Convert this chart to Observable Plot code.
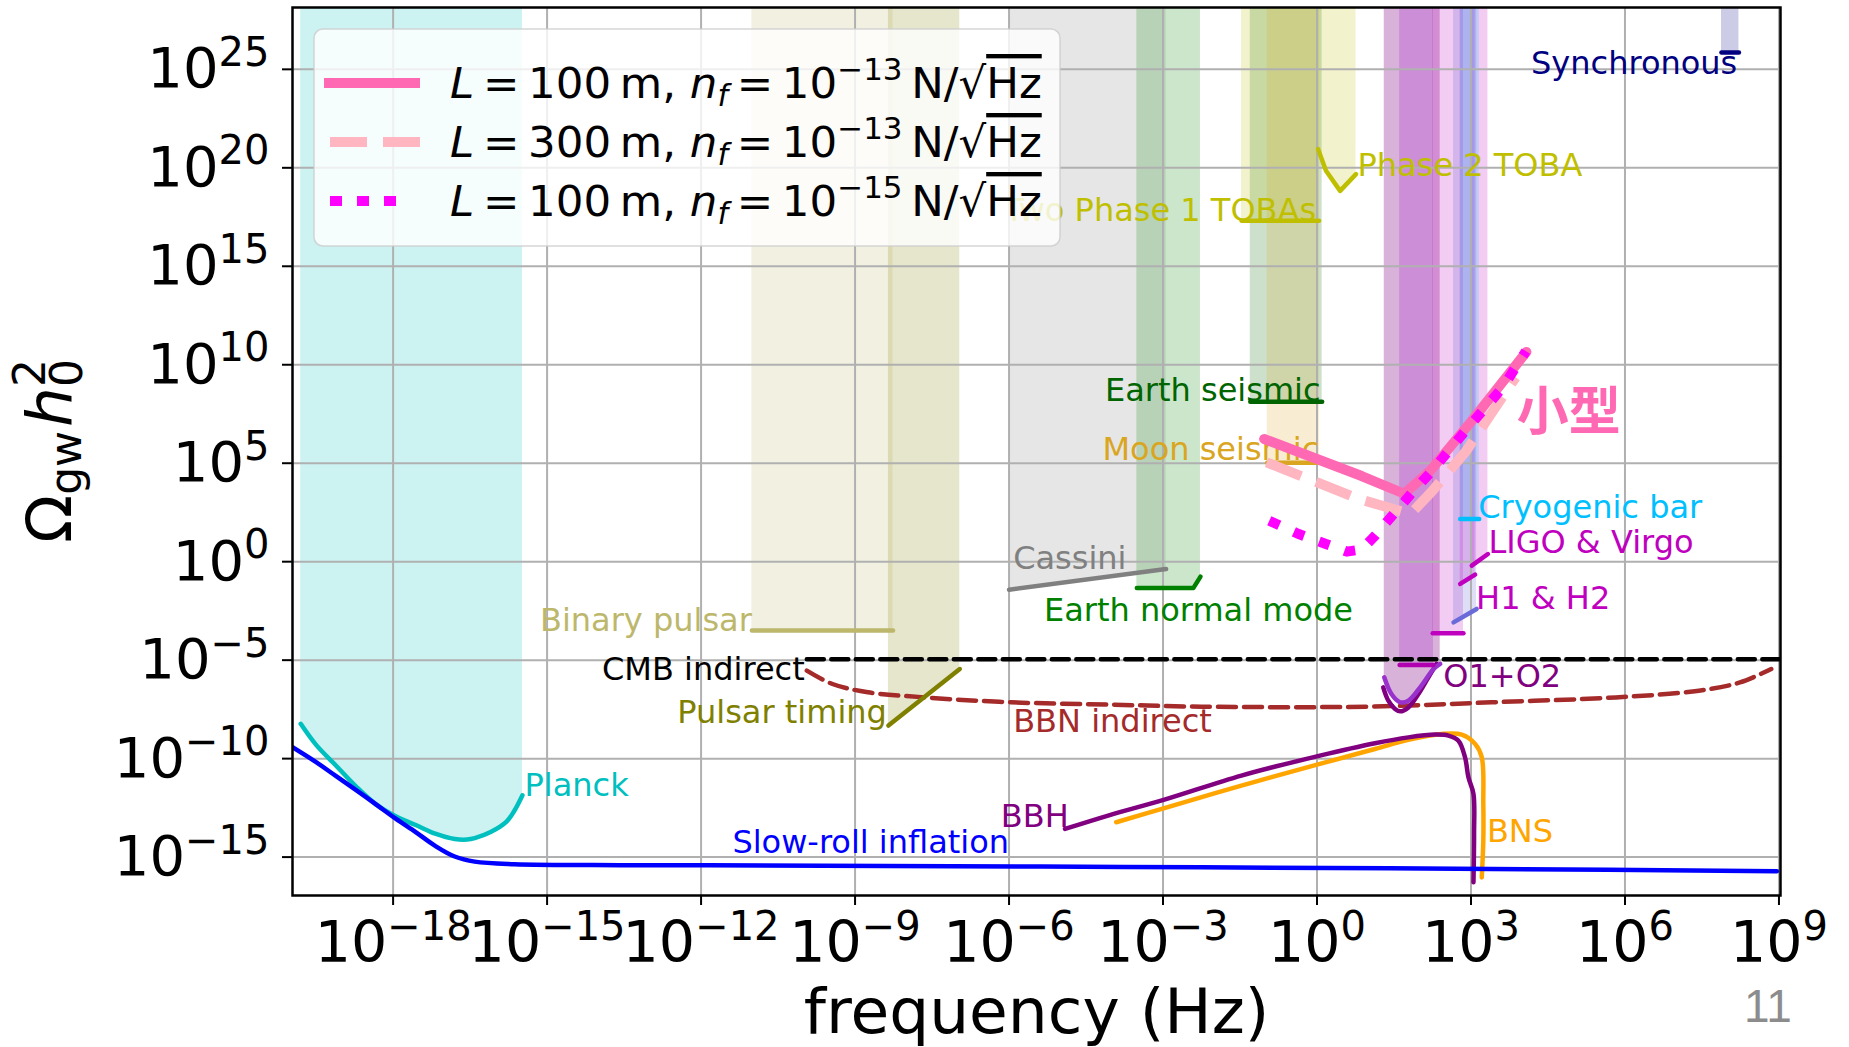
<!DOCTYPE html>
<html><head><meta charset="utf-8">
<script src="https://cdn.jsdelivr.net/npm/d3@7"></script>
<script src="https://cdn.jsdelivr.net/npm/@observablehq/plot@0.6"></script>
<style>html,body{margin:0;padding:0;background:#fff;} svg{display:block}</style>
</head><body><div id="chart"></div>
<script>
// ---- axes (log10 exponents) ----
const xTicks = [-18,-15,-12,-9,-6,-3,0,3,6,9];
const yTicks = [-15,-10,-5,0,5,10,15,20,25];
const xDomain = [-19.96, 9.03];
const yDomain = [-16.95, 28.14];

// ---- series: [log10 f (Hz), log10 Ω h0^2] ----
const planck = [[-19.80,-8.23],[-19.50,-9.30],[-19.11,-10.36],[-18.72,-11.42],[-18.34,-12.31],[-17.95,-12.93],[-17.56,-13.37],[-17.18,-13.81],[-16.80,-14.08],[-16.56,-14.11],[-16.41,-14.04],[-16.10,-13.73],[-15.79,-13.20],[-15.64,-12.66],[-15.48,-11.86]];
const slowRoll = [[-19.96,-9.42],[-19.50,-10.18],[-19.11,-10.89],[-18.72,-11.60],[-18.34,-12.31],[-17.95,-13.05],[-17.56,-13.73],[-17.18,-14.43],[-16.80,-14.97],[-16.41,-15.23],[-15.64,-15.36],[-13.57,-15.41],[-11.86,-15.42],[-5.38,-15.48],[-2.25,-15.52],[3.40,-15.60],[8.96,-15.72]];
const cmbIndirect = [[-9.94,-4.95],[9.03,-4.95]];
const bbnIndirect = [[-9.94,-5.53],[-9.44,-6.21],[-8.75,-6.63],[-7.65,-6.89],[-5.96,-7.14],[-3.97,-7.26],[-2.25,-7.36],[0.98,-7.36],[3.40,-7.14],[5.82,-6.89],[7.44,-6.55],[8.24,-6.13],[8.85,-5.45]];
const binaryPulsar = [[-11.01,-3.50],[-8.26,-3.50]];
const pulsarTiming = [[-8.35,-8.32],[-6.96,-5.45]];
const cassini = [[-6.00,-1.42],[-2.94,-0.37]];
const earthNormal = [[-3.51,-1.34],[-2.41,-1.34],[-2.27,-0.76]];
const earthSeismic = [[-1.30,8.12],[0.10,8.12]];
const moonSeismic = [[-0.97,5.03],[0.05,5.03]];
const toba1 = [[-1.47,17.31],[0.04,17.31]];
const toba2 = [[0.02,20.95],[0.175,19.85],[0.45,18.83],[0.76,19.68]];
const synchronous = [[7.88,25.85],[8.22,25.85]];
const o1o2CurveA = [[1.29,-6.38],[1.39,-7.06],[1.52,-7.48],[1.62,-7.60],[1.78,-7.40],[1.975,-6.72],[2.17,-5.87],[2.33,-5.19]];
const o1o2CurveB = [[1.31,-5.87],[1.45,-6.72],[1.62,-7.14],[1.78,-7.06],[2.01,-6.38],[2.27,-5.45],[2.40,-5.19]];
const o1o2Line = [[1.61,-5.24],[2.27,-5.24]];
const ligoLine = [[2.254,-3.64],[2.853,-3.64]];
const h1h2 = [[2.66,-3.08],[3.11,-2.40]];
const ligoVirgo1 = [[2.79,-1.13],[3.08,-0.66]];
const ligoVirgo2 = [[3.015,-0.20],[3.33,0.39]];
const cryoBar = [[2.79,2.17],[3.16,2.17]];
const bbh = [[-4.91,-13.57],[-4.07,-12.89],[-2.956,-12.07],[-1.473,-10.86],[0.055,-9.85],[1.128,-9.22],[1.78,-8.92],[2.30,-8.78],[2.56,-8.83],[2.755,-9.09],[2.884,-9.93],[2.95,-10.95],[3.048,-11.79],[3.06,-13.82],[3.048,-16.28]];
const bns = [[-3.912,-13.23],[-2.956,-12.50],[-1.473,-11.37],[0.055,-10.27],[1.128,-9.51],[1.78,-9.05],[2.43,-8.75],[2.82,-8.78],[3.08,-9.25],[3.21,-9.93],[3.24,-12.30],[3.24,-14.16],[3.21,-16.03]];
const small100m13 = [[-1.03,6.23],[0.87,4.35],[1.70,3.45],[2.20,4.60],[3.00,7.10],[4.08,10.65]];
const small300m13 = [[-0.98,5.04],[0.82,3.18],[1.82,2.42],[2.25,3.60],[2.90,5.60],[3.87,9.36]];
const small100m15 = [[-0.93,2.08],[-0.37,1.42],[0.16,0.91],[0.58,0.51],[0.87,0.62],[1.13,1.32],[1.50,2.44],[1.84,3.47],[2.21,4.53],[2.94,6.80],[3.62,8.85],[4.07,10.69]];

// ---- annotation labels: [text, log10 f, log10 Ω] ----
const labelsStart = [
  ["Planck",-15.44,-11.88],["Slow-roll inflation",-11.39,-14.77],["BBN indirect",-5.92,-8.66],
  ["Cassini",-5.92,-0.36],["Earth normal mode",-5.32,-3.02],["Earth seismic",-4.13,8.15],
  ["Moon seismic",-4.18,5.15],["Two Phase 1 TOBAs",-6.09,17.31],["Phase 2 TOBA",0.79,19.59],
  ["Synchronous",4.17,24.75],["Cryogenic bar",3.14,2.21],["LIGO & Virgo",3.34,0.43],
  ["H1 & H2",3.10,-2.40],["O1+O2",2.46,-6.38],["BBH",-6.16,-13.49],["BNS",3.31,-14.25]
];
const labelsEnd = [["CMB indirect",-9.98,-5.99],["Binary pulsar",-11.01,-3.50],["Pulsar timing",-8.38,-8.17]];
const smallLabel = [["小型",3.89,6.70]];
const legendLabels = [["100","−13"],["300","−13"],["100","−15"]];

const labelColor = {
  "Planck":"#00bfbf","Slow-roll inflation":"#0000ff","BBN indirect":"#a52a2a","Cassini":"#808080",
  "Earth normal mode":"#008000","Earth seismic":"#006400","Moon seismic":"#daa520",
  "Two Phase 1 TOBAs":"#bfbf00","Phase 2 TOBA":"#bfbf00","Synchronous":"#000080",
  "Cryogenic bar":"#00bfff","LIGO & Virgo":"#bf00bf","H1 & H2":"#bf00bf","O1+O2":"#800080",
  "BBH":"#800080","BNS":"#ffa500","CMB indirect":"#000000","Binary pulsar":"#bdb76b","Pulsar timing":"#808000"
};

const E = e => 10 ** e;
const TOP = 1e30;
const band = (pts, color, op = 0.2, curve = "linear") => Plot.areaY(pts, {x: d => E(d[0]), y1: d => E(d[1]), y2: TOP, fill: color, fillOpacity: op, clip: true, curve});
const line = (pts, color, o = {}) => Plot.line(pts, {x: d => E(d[0]), y: d => E(d[1]), stroke: color, strokeWidth: 4.5, clip: true, ...o});
const fmt = d => { const e = Math.round(Math.log10(d)); return "10|" + (e < 0 ? "−" + (-e) : String(e)); };

const chart = Plot.plot({
  width: 1849, height: 1047,
  marginLeft: 292, marginRight: 69, marginTop: 7, marginBottom: 152,
  style: {fontFamily: "DejaVu Sans", background: "white", overflow: "visible"},
  x: {type: "log", domain: xDomain.map(E)},
  y: {type: "log", domain: yDomain.map(E)},
  marks: [
    band(planck, "#00bfbf", 0.2, "catmull-rom"),
    band(binaryPulsar, "#bdb76b"),
    band(pulsarTiming, "#808000"),
    band(cassini, "#808080"),
    band(earthNormal, "#008000"),
    band(earthSeismic, "#006400"),
    band(moonSeismic, "#daa520"),
    band(toba1, "#bfbf00"),
    band(toba2, "#bfbf00"),
    band(synchronous, "#000080"),
    band(o1o2CurveB, "#800080", 0.3, "catmull-rom"),
    band(o1o2Line, "#9400d3", 0.2),
    band(ligoLine, "#bf00bf", 0.2),
    band(h1h2, "#5a5ad8", 0.2),
    band(ligoVirgo1, "#bf00bf", 0.2),
    band(ligoVirgo2, "#bf00bf", 0.2),
    band(cryoBar, "#00bfff", 0.2),
    Plot.gridX(xTicks.map(E), {stroke: "#b0b0b0", strokeOpacity: 1, strokeWidth: 2}),
    Plot.gridY(yTicks.map(E), {stroke: "#b0b0b0", strokeOpacity: 1, strokeWidth: 2}),
    line(planck, "#00bfbf", {curve: "catmull-rom"}),
    line(cmbIndirect, "#000000", {strokeDasharray: "17,7.5"}),
    line(bbnIndirect, "#a52a2a", {strokeDasharray: "18,8", curve: "catmull-rom"}),
    line(binaryPulsar, "#bdb76b"),
    line(pulsarTiming, "#808000"),
    line(cassini, "#808080"),
    line(earthNormal, "#008000"),
    line(earthSeismic, "#006400"),
    line(moonSeismic, "#daa520"),
    line(toba1, "#bfbf00"),
    line(toba2, "#bfbf00"),
    line(synchronous, "#000080"),
    line(o1o2CurveA, "#800080", {curve: "catmull-rom"}),
    line(o1o2CurveB, "#9932cc", {curve: "catmull-rom"}),
    line(o1o2Line, "#b000b0"),
    line(ligoLine, "#bf00bf"),
    line(h1h2, "#6a6ad8"),
    line(ligoVirgo1, "#bf00bf"),
    line(ligoVirgo2, "#bf00bf"),
    line(cryoBar, "#00bfff"),
    line(bns, "#ffa500", {curve: "catmull-rom"}),
    line(bbh, "#800080", {curve: "catmull-rom"}),
    line(slowRoll, "#0000ff", {curve: "catmull-rom"}),
    Plot.text(labelsStart, {x: d => E(d[1]), y: d => E(d[2]), text: d => d[0], fill: d => labelColor[d[0]], textAnchor: "start", lineAnchor: "bottom", fontSize: 32}),
    Plot.text(labelsEnd, {x: d => E(d[1]), y: d => E(d[2]), text: d => d[0], fill: d => labelColor[d[0]], textAnchor: "end", lineAnchor: "bottom", fontSize: 32}),
    line(small300m13, "#ffb6c1", {strokeWidth: 10, strokeDasharray: "37,16", strokeLinecap: "butt", strokeLinejoin: "miter"}),
    line(small100m13, "#ff69b4", {strokeWidth: 10, strokeLinejoin: "miter"}),
    line(small100m15, "#ff00ff", {strokeWidth: 10, strokeDasharray: "11,16", strokeLinecap: "butt"}),
    Plot.text(smallLabel, {x: d => E(d[1]), y: d => E(d[2]), text: d => d[0], fill: "#ff69b4", textAnchor: "start", lineAnchor: "bottom", fontSize: 52, fontWeight: "bold", fontFamily: "Noto Sans CJK SC"}),
    Plot.axisX(xTicks.map(E), {tickFormat: fmt, tickSize: 10, tickPadding: 16, fontSize: 57, strokeWidth: 2, label: null}),
    Plot.axisY(yTicks.map(E), {tickFormat: fmt, tickSize: 10, tickPadding: 13, fontSize: 56, strokeWidth: 2, dy: 0, label: null}),
    Plot.frame({stroke: "black", strokeWidth: 2.5}),
    Plot.text(["frequency (Hz)"], {frameAnchor: "bottom", dy: 137, lineAnchor: "bottom", fontSize: 63, fill: "black"})
  ]
});
document.getElementById("chart").append(chart);

const svg = d3.select(chart);
// superscript tick labels
svg.selectAll('g[aria-label="x-axis tick label"] text, g[aria-label="y-axis tick label"] text').each(function () {
  const parts = this.textContent.split("|");
  if (parts.length < 2) return;
  const t = d3.select(this); t.text(null);
  t.append("tspan").text(parts[0]);
  t.append("tspan").attr("font-size", 40).attr("dy", -21.5).text(parts[1]);
});

// y-axis title
const yt = svg.append("text").attr("transform", "translate(71,451) rotate(-90)")
  .attr("text-anchor", "middle").attr("font-size", 63).attr("fill", "black");
yt.append("tspan").text("Ω");
yt.append("tspan").attr("font-size", 44).attr("dy", 10).text("gw");
yt.append("tspan").attr("font-style", "italic").attr("dy", -10).attr("dx", 4).text("h");
yt.append("tspan").attr("font-size", 44).attr("dy", 11).text("0");
yt.append("tspan").attr("font-size", 44).attr("dy", -37).attr("dx", -28).text("2");

// legend
const lg = svg.append("g").attr("text-anchor", "start");
lg.append("rect").attr("x", 314).attr("y", 29).attr("width", 746).attr("height", 217).attr("rx", 9)
  .attr("fill", "white").attr("fill-opacity", 0.8).attr("stroke", "#cccccc").attr("stroke-opacity", 0.8).attr("stroke-width", 1.5);
const handles = [
  {stroke: "#ff69b4", dash: null, x1: 324, x2: 420},
  {stroke: "#ffb6c1", dash: "37,16", x1: 330, x2: 420},
  {stroke: "#ff00ff", dash: "12,15", x1: 330, x2: 400}
];
legendLabels.forEach((lab, i) => {
  const yb = 98 + i * 59;
  const h = handles[i];
  lg.append("line").attr("x1", h.x1).attr("x2", h.x2).attr("y1", yb - 15).attr("y2", yb - 15)
    .attr("stroke", h.stroke).attr("stroke-width", 10).attr("stroke-dasharray", h.dash);
  const t = lg.append("text").attr("x", 450).attr("y", yb).attr("text-anchor", "start").attr("font-size", 43.5).attr("fill", "black");
  t.append("tspan").attr("font-style", "italic").text("L");
  t.append("tspan").text("\u2009=\u2009" + lab[0] + "\u2009m,\u00a0");
  t.append("tspan").attr("font-style", "italic").text("n");
  t.append("tspan").attr("font-style", "italic").attr("font-size", 30).attr("dy", 8).text("f");
  t.append("tspan").attr("dy", -8).text("\u2009=\u200910");
  t.append("tspan").attr("font-size", 31).attr("dy", -18).text(lab[1]);
  t.append("tspan").attr("dy", 18).text("\u2009N/√");
  t.append("tspan").style("text-decoration", "overline").text("Hz");
});

// page number
svg.append("text").attr("x", 1768).attr("y", 1022).attr("text-anchor", "middle")
  .attr("font-family", "Liberation Sans").attr("font-size", 46).attr("fill", "#8c8c8c").text("11");
</script></body></html>
